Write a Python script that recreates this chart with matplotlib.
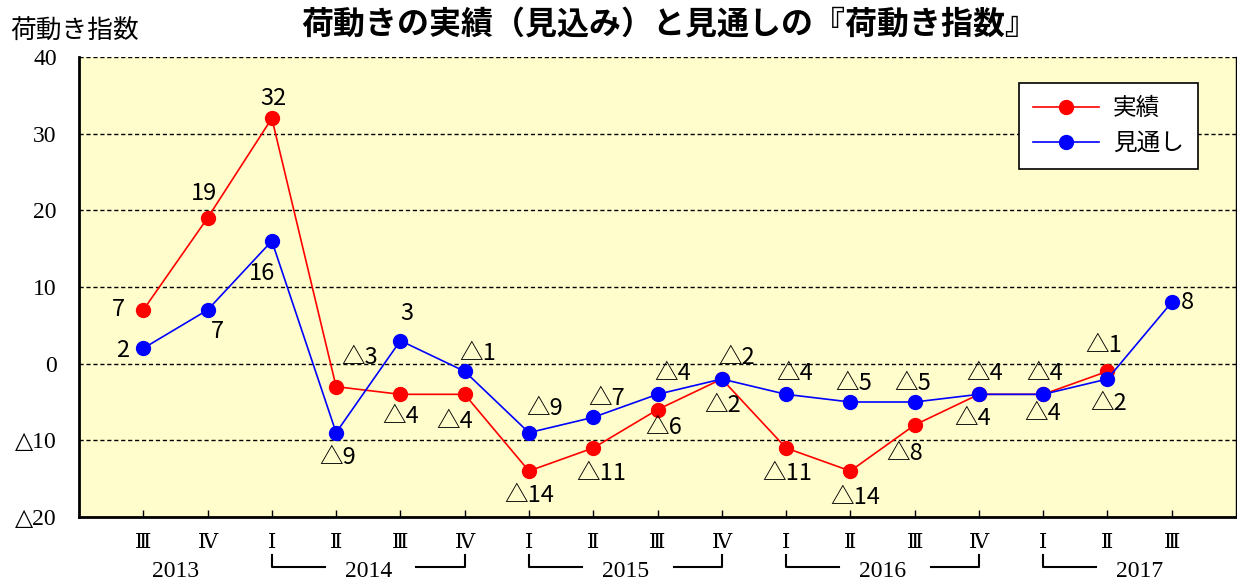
import numpy as np
import matplotlib
matplotlib.use('Agg')
import matplotlib.pyplot as plt
import matplotlib.transforms as mtransforms

plt.rcParams['font.family'] = ['Noto Sans CJK JP', 'DejaVu Sans']

# data
quarters = ['Ⅲ', 'Ⅳ', 'Ⅰ', 'Ⅱ', 'Ⅲ', 'Ⅳ', 'Ⅰ', 'Ⅱ', 'Ⅲ', 'Ⅳ', 'Ⅰ', 'Ⅱ', 'Ⅲ', 'Ⅳ', 'Ⅰ', 'Ⅱ', 'Ⅲ']
actual = [7, 19, 32, -3, -4, -4, -14, -11, -6, -2, -11, -14, -8, -4, -4, -1]
forecast = [2, 7, 16, -9, 3, -1, -9, -7, -4, -2, -4, -5, -5, -4, -4, -2, 8]
years = ['2013', '2014', '2015', '2016', '2017']
year_q1_pos = [-2, 2, 6, 10, 14]   # x index of quarter I of each year
yticks = [40, 30, 20, 10, 0, -10, -20]

# label offsets in pixels (dx, dy) for each point
actual_off = [(-25, 0), (-4, 25), (2, 20), (24, 29), (0, -22), (-10, -27), (0, -25), (8, -26),
              (6, -18), (1, -27), (1, -26), (5, -27), (-10, -28), (-6, -24), (0, -19), (-4, 26)]
forecast_off = [(-21, -2), (10, -21), (-10, -33), (2, -25), (7, 27), (13, 18), (16, 24), (13, 19),
                (15, 21), (15, 21), (9, 21), (3, 18), (-2, 18), (6, 21), (2, 21), (1, -25), (16, 0)]


def fmt(v):
    return '△' + str(abs(v)) if v < 0 else str(v)


fig = plt.figure(figsize=(12.37, 5.81), dpi=100)
ax = fig.add_axes([79/1237, 64/581, 1157/1237, 460/581])
ax.set_facecolor('#FFFDCC')

x_act = np.arange(len(actual))
x_fc = np.arange(len(forecast))
ax.plot(x_act, actual, color='#FF0000', lw=1.2, marker='o', ms=10, label='実績', zorder=3)
ax.plot(x_fc, forecast, color='#0000FF', lw=1.2, marker='o', ms=10, label='見通し', zorder=4)

lab_font = dict(family=['Noto Sans CJK JP', 'DejaVu Sans'], fontsize=17)
for i, v in enumerate(actual):
    ax.annotate(fmt(v), (i, v), xytext=actual_off[i], textcoords='offset pixels',
                ha='center', va='center', **lab_font)
for i, v in enumerate(forecast):
    ax.annotate(fmt(v), (i, v), xytext=forecast_off[i], textcoords='offset pixels',
                ha='center', va='center', **lab_font)

ax.set_xlim(-1, 17)
ax.set_ylim(-20, 40)
ax.set_yticks(yticks)
ax.set_yticklabels([fmt(t) for t in yticks], family=['Liberation Serif', 'DejaVu Serif'], fontsize=17)
ax.tick_params(axis='y', length=0, pad=16)
ax.set_xticks(x_fc)
ax.set_xticklabels([])
ax.tick_params(axis='x', direction='in', length=5, width=1)

ax.grid(axis='y', color='black', linestyle=(0, (3, 2)), lw=1)
ax.spines['top'].set_visible(False)
ax.spines['left'].set_linewidth(2)
ax.spines['bottom'].set_linewidth(2)
ax.spines['right'].set_linewidth(1)

# quarter / year labels below the axis
trans = mtransforms.blended_transform_factory(ax.transData, ax.transAxes)
for i, q in enumerate(quarters):
    ax.text(i, -0.058, q, transform=trans, ha='center', va='center', fontsize=15,
            family=['Liberation Serif', 'DejaVu Serif', 'Noto Sans CJK JP'])
for yr, q1 in zip(years, year_q1_pos):
    centre = q1 + 1.5 if q1 >= 0 else (q1 + 3) / 2
    ax.text(centre, -0.118, yr, transform=trans, ha='center', va='center', fontsize=17,
            family=['Liberation Serif', 'DejaVu Serif'])
    if q1 >= 0:
        ax.plot([q1, q1, q1 + 0.82], [-0.083, -0.108, -0.108], transform=trans,
                color='black', lw=1.5, clip_on=False)
        if q1 + 3 <= len(forecast) - 1:
            ax.plot([q1 + 2.25, q1 + 3, q1 + 3], [-0.108, -0.108, -0.083], transform=trans,
                    color='black', lw=1.5, clip_on=False)

leg = ax.legend(loc='upper right', bbox_to_anchor=(1119/1157, 1 - 26/460), fontsize=17,
                fancybox=False, framealpha=1, edgecolor='black', handlelength=2.8,
                borderpad=0.6, labelspacing=0.5, borderaxespad=0, handletextpad=0.6)
leg.get_frame().set_linewidth(1.2)

fig.text(669/1237, 1 - 25/581, '荷動きの実績（見込み）と見通しの『荷動き指数』',
         ha='center', va='center', fontsize=23, fontweight='bold')
fig.text(10/1237, 1 - 32/581, '荷動き指数', ha='left', va='center', fontsize=18.5)

plt.savefig('out.png', dpi=100)
plt.close()
